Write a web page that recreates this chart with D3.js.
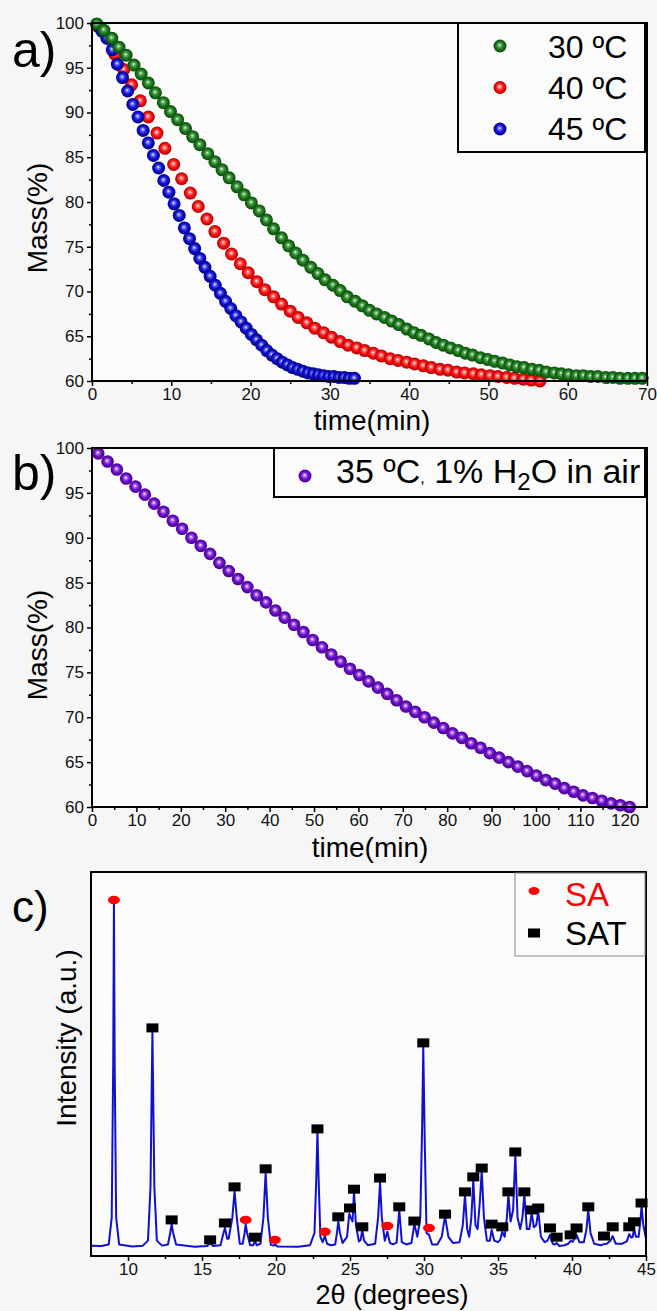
<!DOCTYPE html>
<html>
<head>
<meta charset="utf-8">
<script src="https://cdn.jsdelivr.net/npm/d3@7"></script>
<style>
body { margin: 0; background: #f6f6f6; }
svg { display: block; font-family: "Liberation Sans", Arial, sans-serif; }
</style>
</head>
<body>
<div id="chart"></div>
<script>
// ---- panel a: mass loss at three temperatures ----
var timeGreen = [0.6,1.5,2.5,3.4,4.3,5.3,6.2,7.1,8.0,9.0,9.9,10.8,11.8,12.7,13.6,14.6,15.5,16.4,17.3,18.3,
  19.2,20.1,21.1,22.0,22.9,23.9,24.8,25.7,26.6,27.6,28.5,29.4,30.4,31.3,32.2,33.2,34.1,35.0,35.9,36.9,
  37.8,38.7,39.7,40.6,41.5,42.5,43.4,44.3,45.2,46.2,47.1,48.0,49.0,49.9,50.8,51.8,52.7,53.6,54.5,55.5,
  56.4,57.3,58.3,59.2,60.1,61.1,62.0,62.9,63.8,64.8,65.7,66.6,67.6,68.5,69.4];
var massGreen = [99.9,99.2,98.3,97.3,96.4,95.3,94.3,93.3,92.2,91.1,90.1,89.2,88.2,87.3,86.4,85.4,84.5,83.6,82.7,81.7,
  80.8,79.9,79.0,78.0,77.0,76.0,75.1,74.3,73.5,72.7,72.0,71.3,70.7,70.1,69.4,68.9,68.4,67.9,67.5,67.1,
  66.7,66.3,65.8,65.4,65.1,64.7,64.3,64.0,63.7,63.4,63.1,62.9,62.6,62.4,62.2,62.0,61.8,61.6,61.5,61.3,
  61.2,61.0,60.9,60.8,60.7,60.6,60.6,60.5,60.5,60.4,60.4,60.3,60.3,60.3,60.3];

var timeRed = [0.8,1.9,2.9,4.0,5.0,6.1,7.1,8.2,9.2,10.3,11.3,12.4,13.4,14.5,15.5,16.6,17.6,18.7,19.7,20.8,
  21.8,22.9,23.9,25.0,26.0,27.1,28.1,29.2,30.2,31.3,32.3,33.4,34.4,35.5,36.5,37.6,38.6,39.7,40.7,41.8,
  42.8,43.9,44.9,46.0,47.0,48.1,49.1,50.2,51.2,52.3,53.3,54.4,55.4,56.5];
var massRed = [99.6,98.3,96.5,94.8,93.1,91.3,89.5,87.7,86.0,84.2,82.6,81.0,79.5,78.1,76.7,75.4,74.2,73.1,72.1,71.1,
  70.2,69.4,68.6,67.8,67.1,66.5,65.9,65.4,64.9,64.4,64.0,63.7,63.4,63.1,62.8,62.5,62.3,62.1,61.9,61.7,
  61.5,61.3,61.2,61.0,60.9,60.8,60.7,60.6,60.5,60.4,60.3,60.2,60.1,60.0];

var timeBlue = [0.6,1.25,1.9,2.55,3.2,3.85,4.5,5.15,5.8,6.45,7.1,7.75,8.4,9.05,9.7,10.35,11.0,11.65,12.3,12.95,
  13.6,14.25,14.9,15.55,16.2,16.85,17.5,18.15,18.8,19.45,20.1,20.75,21.4,22.05,22.7,23.35,24.0,24.65,25.3,25.95,
  26.6,27.25,27.9,28.55,29.2,29.85,30.5,31.15,31.8,32.45,33.1];
var massBlue = [99.8,99.1,98.3,97.0,95.4,93.9,92.4,90.9,89.5,88.0,86.6,85.2,83.8,82.4,81.1,79.8,78.5,77.1,75.9,74.8,
  73.7,72.7,71.7,70.7,69.8,68.9,68.1,67.3,66.6,65.9,65.2,64.6,64.0,63.4,62.9,62.5,62.1,61.8,61.5,61.3,
  61.1,60.9,60.8,60.7,60.6,60.5,60.5,60.4,60.4,60.3,60.3];

var legendA = ["30 ºC", "40 ºC", "45 ºC"];

// ---- panel b: 35 ºC, 1% H2O in air ----
var timeB = [1.4,3.5,5.6,7.7,9.8,11.9,14.0,16.1,18.2,20.3,22.4,24.5,26.6,28.7,30.8,32.9,35.0,37.1,39.2,41.3,
  43.4,45.5,47.6,49.7,51.8,53.9,56.0,58.1,60.2,62.3,64.4,66.5,68.6,70.7,72.8,74.9,77.0,79.1,81.2,83.3,
  85.4,87.5,89.6,91.7,93.8,95.9,98.0,100.1,102.2,104.3,106.4,108.5,110.6,112.7,114.8,116.9,119.0,121.1];
var massB = [99.4,98.5,97.6,96.6,95.7,94.8,93.8,92.9,91.9,91.0,90.0,89.1,88.2,87.2,86.3,85.4,84.5,83.6,82.8,81.9,
  81.1,80.3,79.5,78.6,77.8,77.0,76.2,75.4,74.7,74.0,73.3,72.6,71.9,71.2,70.6,70.0,69.4,68.8,68.2,67.7,
  67.1,66.6,66.0,65.5,65.0,64.5,64.0,63.5,63.0,62.6,62.1,61.7,61.3,61.0,60.7,60.4,60.2,60.0];

// ---- panel c: XRD pattern, vertices of the trace [2theta, intensity] ----
var xrdTrace = [[7.5,2.7],[8.2,2.6],[8.7,3.0],[8.9,10],[9.0,50],[9.05,91.9],[9.1,50],[9.2,10],[9.4,3.0],
  [10.3,2.5],[11.0,2.7],[11.35,4],[11.52,18],[11.65,58.6],[11.78,18],[11.95,4],[12.3,2.7],
  [12.7,3],[12.85,6],[12.95,8.3],[13.05,6],[13.25,3],[14.5,2.4],
  [15.35,2.6],[15.55,3.4],[15.75,2.6],
  [16.25,2.8],[16.45,6],[16.55,7.3],[16.7,4.5],[16.8,4.5],[17.05,10],[17.2,16.9],[17.35,10],[17.55,3.2],
  [17.75,3.2],[17.88,6],[17.95,8.3],[18.05,6],[18.25,2.8],
  [18.45,2.8],[18.58,3.9],[18.7,2.8],
  [18.95,3.2],[19.15,10],[19.3,21.6],[19.45,10],[19.65,2.9],
  [19.85,2.7],[19.93,3.0],[20.1,2.5],[21.5,2.4],[22.3,2.8],
  [22.6,6],[22.72,20],[22.8,32.6],[22.88,20],[23.0,5],[23.15,3.6],[23.3,5.2],[23.45,3.2],[23.7,2.8],
  [24.0,3.0],[24.12,6],[24.21,9.1],[24.32,6],[24.5,3.4],
  [24.8,5],[24.95,11],[25.05,10],[25.17,9],[25.27,16.7],[25.4,8],[25.6,3.8],
  [25.72,4.2],[25.83,6.8],[25.95,4],[26.2,2.8],
  [26.7,3.2],[26.9,10],[27.03,19.3],[27.15,10],[27.35,4],[27.52,6.3],[27.7,3.4],[27.9,3],
  [28.15,3.5],[28.33,12],[28.5,3.6],[28.8,3],
  [29.15,3.4],[29.35,8.3],[29.55,5],[29.75,10],[29.88,35],[29.95,54.4],[30.05,30],[30.17,6],[30.34,5.5],[30.55,3],
  [30.9,3],[31.2,5],[31.42,10.4],[31.65,5],[31.95,3.4],
  [32.4,3.6],[32.62,8],[32.77,15.9],[32.92,7],[33.05,5],[33.2,10],[33.33,19.8],[33.48,8],[33.62,7],[33.77,14],
  [33.9,22.1],[34.05,10],[34.25,4],
  [34.45,4],[34.57,6.8],[34.75,4],[35.0,3.6],[35.15,4.2],[35.29,6.3],[35.45,5],[35.6,10],[35.7,15.9],[35.85,9],
  [36.02,12],[36.17,26.3],[36.32,10],[36.5,7],[36.65,10],[36.78,15.9],[36.95,7],[37.12,7],[37.28,11.2],[37.42,7.5],
  [37.58,8],[37.72,11.7],[37.9,5],[38.15,3.6],
  [38.35,4],[38.51,5.5],[38.7,3.2],[38.85,3.0],[38.96,3.4],[39.15,2.6],[39.5,2.8],
  [39.75,3.2],[39.91,3.9],[40.05,3.7],[40.18,4.8],[40.31,5.5],[40.5,3.6],[40.8,3.6],[40.98,7],[41.1,12],[41.25,6],[41.5,3.2],
  [41.95,2.8],[42.16,3.1],[42.35,3.2],[42.6,4],[42.75,5.2],[42.95,3.2],[43.4,3.2],
  [43.7,3.8],[43.87,5.7],[44.0,4.8],[44.1,5],[44.19,7],[44.32,5],[44.5,5],[44.62,9],[44.7,13],[44.82,8],[45.0,4.5]];

// phase markers: [2theta, marker level]
var saPeaks = [[9.05,92.7],[17.95,9.4],[19.93,4.2],[23.3,6.3],[27.52,7.8],[30.34,7.3]];
var satPeaks = [[11.65,59.4],[12.95,9.4],[15.55,4.2],[16.55,8.6],[17.2,18.0],[18.58,4.9],[19.3,22.7],
  [22.8,33.1],[24.21,10.2],[25.0,12.5],[25.27,17.4],[25.83,7.6],[27.03,20.3],[28.33,12.8],[29.35,9.1],
  [29.95,55.5],[31.42,10.9],[32.77,16.7],[33.33,20.6],[33.9,22.9],[34.57,8.3],[35.29,7.6],[35.7,16.7],
  [36.17,27.1],[36.78,16.7],[37.28,12.0],[37.72,12.5],[38.51,7.3],[38.96,4.9],[39.91,5.5],[40.31,7.3],
  [41.1,12.8],[42.16,5.2],[42.75,7.6],[43.87,7.6],[44.19,8.9],[44.7,13.8]];

var svg = d3.select("#chart").append("svg").attr("width", 657).attr("height", 1311);
var defs = svg.append("defs");

function sphere(id, light, base, dark) {
  var gr = defs.append("radialGradient").attr("id", id)
    .attr("cx", "50%").attr("cy", "50%").attr("r", "50%").attr("fx", "46%").attr("fy", "42%");
  gr.append("stop").attr("offset", "0%").attr("stop-color", "#ffffff");
  gr.append("stop").attr("offset", "22%").attr("stop-color", light);
  gr.append("stop").attr("offset", "55%").attr("stop-color", base);
  gr.append("stop").attr("offset", "100%").attr("stop-color", dark);
}
sphere("gGreen", "#6fb06f", "#1e7d1e", "#0a4a0a");
sphere("gRed", "#ff8080", "#ff1414", "#b00000");
sphere("gBlue", "#7070ff", "#1414d8", "#000080");
sphere("gPurple", "#b07ae8", "#7010d0", "#45008a");

function styleAxis(a) {
  a.select(".domain").remove();
  a.selectAll("line").attr("stroke", "#000").attr("stroke-width", 1.5);
  a.selectAll("text").attr("font-size", 17).attr("fill", "#111").attr("font-family", "Liberation Sans, Arial, sans-serif");
}

function frame(g, x, y, xMajor, xMinor, yMajor, yMinor) {
  g.append("rect").attr("x", x.range()[0]).attr("y", y.range()[1])
    .attr("width", x.range()[1] - x.range()[0]).attr("height", y.range()[0] - y.range()[1])
    .attr("fill", "#fbfbfb");
  var bx = g.append("g").attr("transform", "translate(0," + y.range()[0] + ")")
    .call(d3.axisBottom(x).tickValues(xMajor).tickSize(5).tickPadding(2).tickSizeOuter(0));
  var bxm = g.append("g").attr("transform", "translate(0," + y.range()[0] + ")")
    .call(d3.axisBottom(x).tickValues(xMinor).tickSize(3).tickFormat("").tickSizeOuter(0));
  var ly = g.append("g").attr("transform", "translate(" + x.range()[0] + ",0)")
    .call(d3.axisLeft(y).tickValues(yMajor).tickSize(5).tickPadding(3).tickSizeOuter(0));
  var lym = g.append("g").attr("transform", "translate(" + x.range()[0] + ",0)")
    .call(d3.axisLeft(y).tickValues(yMinor).tickSize(3).tickFormat("").tickSizeOuter(0));
  [bx, bxm, ly, lym].forEach(styleAxis);
}

function border(g, x, y) {
  g.append("rect").attr("x", x.range()[0]).attr("y", y.range()[1])
    .attr("width", x.range()[1] - x.range()[0]).attr("height", y.range()[0] - y.range()[1])
    .attr("fill", "none").attr("stroke", "#000").attr("stroke-width", 2);
}

function balls(g, x, y, times, masses, fill, r) {
  g.selectAll(null).data(times).enter().append("circle")
    .attr("cx", function(d) { return x(d); })
    .attr("cy", function(d, i) { return y(masses[i]); })
    .attr("r", r).attr("fill", "url(#" + fill + ")");
}

// ================= panel a =================
var gA = svg.append("g");
var xA = d3.scaleLinear().domain([0, 70]).range([92, 647]);
var yA = d3.scaleLinear().domain([60, 100]).range([381, 23]);
frame(gA, xA, yA, d3.range(0, 71, 10), d3.range(5, 70, 10), d3.range(60, 101, 5), d3.range(62.5, 100, 5));
balls(gA, xA, yA, timeRed, massRed, "gRed", 6.5);
balls(gA, xA, yA, timeBlue, massBlue, "gBlue", 6.5);
balls(gA, xA, yA, timeGreen, massGreen, "gGreen", 6.5);
border(gA, xA, yA);

gA.append("rect").attr("x", 458).attr("y", 23).attr("width", 187).attr("height", 129)
  .attr("fill", "#fbfbfb").attr("stroke", "#000").attr("stroke-width", 2);
var legFill = ["gGreen", "gRed", "gBlue"];
legendA.forEach(function(t, i) {
  gA.append("circle").attr("cx", 500).attr("cy", 46 + i * 41.5).attr("r", 6.5).attr("fill", "url(#" + legFill[i] + ")");
  gA.append("text").attr("x", 548).attr("y", 58 + i * 41).attr("font-size", 32).attr("fill", "#000").text(t);
});

gA.append("text").attr("x", 12).attr("y", 67).attr("font-size", 50).text("a)");
gA.append("text").attr("transform", "translate(47,218) rotate(-90)").attr("text-anchor", "middle")
  .attr("font-size", 28).text("Mass(%)");
gA.append("text").attr("x", 372).attr("y", 430).attr("text-anchor", "middle").attr("font-size", 28).text("time(min)");

// ================= panel b =================
var gB = svg.append("g");
var xB = d3.scaleLinear().domain([0, 125]).range([92, 647]);
var yB = d3.scaleLinear().domain([60, 100]).range([807, 448]);
frame(gB, xB, yB, d3.range(0, 121, 10), d3.range(5, 125, 10), d3.range(60, 101, 5), d3.range(62.5, 100, 5));
balls(gB, xB, yB, timeB, massB, "gPurple", 6.3);
border(gB, xB, yB);

gB.append("rect").attr("x", 274).attr("y", 448).attr("width", 371).attr("height", 49)
  .attr("fill", "#fbfbfb").attr("stroke", "#000").attr("stroke-width", 2);
gB.append("circle").attr("cx", 305).attr("cy", 476).attr("r", 6.5).attr("fill", "url(#gPurple)");
var lb = gB.append("text").attr("x", 336).attr("y", 483).attr("font-size", 34).attr("fill", "#000");
lb.append("tspan").text("35 ºC");
lb.append("tspan").attr("font-size", 16).text(",");
lb.append("tspan").text(" 1% H");
lb.append("tspan").attr("font-size", 24).attr("dy", 7).text("2");
lb.append("tspan").attr("dy", -7).text("O in air");

gB.append("text").attr("x", 12).attr("y", 490).attr("font-size", 50).text("b)");
gB.append("text").attr("transform", "translate(47,645) rotate(-90)").attr("text-anchor", "middle")
  .attr("font-size", 28).text("Mass(%)");
gB.append("text").attr("x", 370).attr("y", 857).attr("text-anchor", "middle").attr("font-size", 28).text("time(min)");

// ================= panel c =================
var gC = svg.append("g");
var xC = d3.scaleLinear().domain([7.5, 45]).range([91, 646]);
var yC = d3.scaleLinear().domain([0, 100]).range([1256, 872]);
gC.append("rect").attr("x", 91).attr("y", 872).attr("width", 555).attr("height", 384).attr("fill", "#fbfbfb");
var axC = gC.append("g").attr("transform", "translate(0,1256)")
  .call(d3.axisBottom(xC).tickValues(d3.range(10, 46, 5)).tickSize(5).tickPadding(2).tickSizeOuter(0));
var axCm = gC.append("g").attr("transform", "translate(0,1256)")
  .call(d3.axisBottom(xC).tickValues(d3.range(12.5, 45, 5)).tickSize(3).tickFormat("").tickSizeOuter(0));
[axC, axCm].forEach(styleAxis);

var line = d3.line().x(function(d) { return xC(d[0]); }).y(function(d) { return yC(d[1]); });
gC.append("path").datum(xrdTrace).attr("d", line).attr("fill", "none")
  .attr("stroke", "#1010d0").attr("stroke-width", 2).attr("stroke-linejoin", "round");

gC.selectAll(".sa").data(saPeaks).enter().append("ellipse")
  .attr("cx", function(d) { return xC(d[0]); }).attr("cy", function(d) { return yC(d[1]); })
  .attr("rx", 6).attr("ry", 4.2).attr("fill", "#ff0000");
gC.selectAll(".sat").data(satPeaks).enter().append("rect")
  .attr("x", function(d) { return xC(d[0]) - 6; }).attr("y", function(d) { return yC(d[1]) - 4.5; })
  .attr("width", 12).attr("height", 9).attr("fill", "#000");

gC.append("path").attr("d", "M91,872H646V1256H91Z").attr("fill", "none").attr("stroke", "#000").attr("stroke-width", 2);

gC.append("rect").attr("x", 515).attr("y", 873).attr("width", 130).attr("height", 83)
  .attr("fill", "#fbfbfb").attr("stroke", "#888").attr("stroke-width", 1);
gC.append("ellipse").attr("cx", 534).attr("cy", 891).attr("rx", 5.5).attr("ry", 4).attr("fill", "#ff0000");
gC.append("text").attr("x", 565).attr("y", 906).attr("font-size", 33).attr("fill", "#ff0000").text("SA");
gC.append("rect").attr("x", 528).attr("y", 928.5).attr("width", 12).attr("height", 9).attr("fill", "#000");
gC.append("text").attr("x", 565).attr("y", 945).attr("font-size", 33).attr("fill", "#000").text("SAT");

gC.append("text").attr("x", 12).attr("y", 922).attr("font-size", 44).text("c)");
gC.append("text").attr("transform", "translate(76,1038) rotate(-90)").attr("text-anchor", "middle")
  .attr("font-size", 28).text("Intensity (a.u.)");
gC.append("text").attr("x", 392).attr("y", 1304).attr("text-anchor", "middle").attr("font-size", 27).text("2θ (degrees)");
</script>
</body>
</html>
